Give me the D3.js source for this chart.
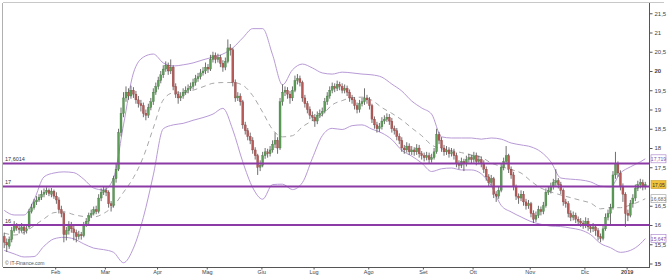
<!DOCTYPE html>
<html>
<head>
<meta charset="utf-8">
<script src="https://cdn.jsdelivr.net/npm/d3@7"></script>
<style>
  body { margin: 0; background: #fff; }
  svg { display: block; font-family: "Liberation Sans", Arial, sans-serif; }
</style>
</head>
<body>
<svg id="chart" width="668" height="277"></svg>
<script>
// daily candles, trading-day index 0 = first session of Jan 2018
const opens = [15.7,15.55,15.45,15.62,15.85,15.98,15.92,15.85,15.95,15.85,
15.95,16.35,16.45,16.6,16.65,16.72,16.8,16.85,16.9,16.8,
16.88,16.75,16.65,16.4,16.3,15.75,15.85,16.0,15.9,15.8,
15.7,15.75,15.72,16.0,16.1,16.25,16.3,16.4,16.35,16.7,
16.85,16.9,16.85,16.55,16.5,17.2,17.45,18.4,18.9,19.3,
19.45,19.35,19.5,19.4,19.25,19.15,19.1,18.9,18.85,19.05,
19.2,19.45,19.6,19.75,19.9,20.05,20.15,20.0,20.1,19.6,
19.4,19.3,19.35,19.45,19.5,19.55,19.6,19.7,19.8,19.85,
19.95,20.0,20.1,20.05,20.3,20.4,20.3,20.35,20.2,20.1,
20.25,20.6,20.55,19.7,19.3,19.35,19.2,18.6,18.45,18.3,
18.2,17.95,17.8,17.5,17.55,17.8,17.9,17.85,17.95,18.1,
18.2,18.0,19.2,19.45,19.5,19.4,19.3,19.5,19.75,19.8,
19.7,19.3,19.15,19.0,18.85,18.8,18.7,18.85,18.9,18.95,
19.2,19.35,19.5,19.6,19.55,19.65,19.6,19.5,19.55,19.45,
19.3,19.25,19.1,19.0,19.15,19.2,19.3,19.25,19.1,18.75,
18.6,18.5,18.55,18.7,18.75,18.8,18.7,18.5,18.45,18.3,
18.2,18.0,17.95,18.05,17.9,17.95,17.9,18.0,17.85,17.8,
17.75,17.8,17.7,17.75,17.9,18.35,18.2,18.0,17.9,17.95,
17.85,17.9,17.8,17.6,17.55,17.65,17.6,17.7,17.75,17.7,
17.8,17.65,17.7,17.6,17.45,17.25,17.1,17.2,16.8,16.75,
16.9,17.5,17.65,17.8,17.45,17.3,17.0,16.75,16.7,16.8,
16.6,16.5,16.55,16.3,16.15,16.25,16.4,16.35,16.5,16.85,
16.9,17.0,17.1,17.15,17.05,16.9,16.6,16.55,16.3,16.2,
16.25,16.15,16.1,16.05,16.0,16.1,15.95,15.9,15.95,15.85,
15.7,15.65,15.9,16.2,16.3,16.45,17.3,17.6,17.35,17.0,
16.8,16.3,16.25,16.55,16.7,16.95,17.05,17.1,17.0];

const highs = [15.8,15.65,15.7,15.95,16.1,16.05,16.0,16.05,16.02,16.0,
16.42,16.55,16.68,16.75,16.8,16.9,16.95,16.98,16.95,16.96,
16.92,16.85,16.72,16.5,16.35,15.95,16.1,16.08,15.98,15.88,
15.85,15.82,16.08,16.18,16.32,16.4,16.48,16.5,16.8,16.95,
17.0,16.98,16.9,16.62,17.28,17.6,18.5,19.05,19.45,19.6,
19.55,19.62,19.58,19.48,19.35,19.25,19.18,19.0,19.15,19.3,
19.55,19.7,19.85,20.0,20.15,20.25,20.22,20.3,20.15,19.68,
19.48,19.45,19.55,19.6,19.65,19.7,19.8,19.9,19.95,20.05,
20.1,20.22,20.18,20.42,20.5,20.48,20.45,20.42,20.28,20.35,
20.82,20.7,20.6,19.78,19.45,19.42,19.25,18.68,18.52,18.4,
18.28,18.02,17.85,17.68,17.9,18.0,17.98,18.05,18.2,18.4,
18.28,19.3,19.65,19.6,19.58,19.48,19.6,19.88,19.92,19.88,
19.75,19.38,19.22,19.08,18.95,18.88,18.95,19.0,19.05,19.3,
19.45,19.6,19.7,19.68,19.75,19.72,19.68,19.65,19.62,19.52,
19.38,19.32,19.18,19.25,19.3,19.55,19.38,19.32,19.15,18.82,
18.68,18.65,18.8,18.85,18.9,18.88,18.78,18.58,18.52,18.38,
18.28,18.08,18.15,18.12,18.05,18.02,18.1,18.08,17.92,17.88,
17.9,17.88,17.85,18.0,18.5,18.42,18.28,18.08,18.05,18.02,
18.0,17.98,17.88,17.68,17.75,17.72,17.8,17.85,17.82,17.9,
17.88,17.8,17.78,17.68,17.52,17.32,17.3,17.25,16.88,17.0,
17.6,17.75,18.05,17.85,17.52,17.38,17.05,16.82,16.9,16.88,
16.68,16.65,16.6,16.38,16.35,16.5,16.48,16.6,16.95,17.0,
17.1,17.2,17.45,17.22,17.12,16.95,16.68,16.62,16.38,16.35,
16.32,16.22,16.18,16.12,16.2,16.18,16.02,16.05,16.02,15.92,
15.78,16.0,16.3,16.4,16.55,17.4,17.9,17.65,17.42,17.08,
16.85,16.4,16.65,16.8,17.05,17.15,17.2,17.18,17.12];

const lows = [15.4,15.3,15.38,15.55,15.8,15.85,15.78,15.8,15.75,15.78,
15.9,16.3,16.4,16.52,16.6,16.65,16.72,16.78,16.75,16.72,
16.68,16.55,16.3,16.2,15.55,15.6,15.75,15.8,15.6,15.55,
15.62,15.62,15.68,15.95,16.02,16.18,16.25,16.28,16.3,16.62,
16.78,16.75,16.45,16.35,16.45,17.1,17.4,18.3,18.8,19.2,
19.25,19.28,19.3,19.15,19.05,18.95,18.8,18.72,18.78,18.98,
19.12,19.38,19.52,19.68,19.82,19.98,19.9,19.92,19.5,19.3,
19.15,19.22,19.28,19.38,19.42,19.48,19.52,19.62,19.72,19.78,
19.88,19.92,19.95,20.0,20.22,20.2,20.22,20.1,19.98,20.02,
20.2,20.4,19.6,19.2,19.22,19.1,18.5,18.35,18.2,18.1,
17.85,17.7,17.3,17.4,17.5,17.72,17.75,17.78,17.88,18.0,
17.85,17.95,19.1,19.35,19.28,19.15,19.22,19.45,19.65,19.6,
19.2,19.05,18.9,18.75,18.7,18.55,18.62,18.78,18.82,18.9,
19.12,19.28,19.42,19.45,19.48,19.5,19.42,19.42,19.35,19.2,
19.15,19.0,18.9,18.92,19.08,19.12,19.15,19.0,18.65,18.5,
18.4,18.42,18.48,18.62,18.68,18.6,18.4,18.35,18.2,18.1,
17.9,17.85,17.88,17.82,17.82,17.8,17.82,17.75,17.7,17.65,
17.68,17.6,17.62,17.7,17.85,18.1,17.9,17.8,17.82,17.75,
17.78,17.7,17.5,17.45,17.48,17.4,17.52,17.62,17.6,17.62,
17.55,17.58,17.5,17.35,17.15,17.0,17.02,16.7,16.6,16.68,
16.85,17.42,17.58,17.35,17.2,16.9,16.65,16.55,16.62,16.5,
16.4,16.42,16.2,16.05,16.08,16.18,16.25,16.28,16.45,16.78,
16.82,16.92,17.02,16.95,16.8,16.5,16.45,16.2,16.1,16.12,
16.05,16.0,15.95,15.9,15.92,15.85,15.8,15.82,15.72,15.6,
15.55,15.6,15.85,16.12,16.0,16.4,17.2,17.25,16.9,16.6,
15.95,16.1,16.2,16.45,16.62,16.88,16.95,16.9,16.92];

const closes = [15.55,15.48,15.62,15.85,15.98,15.92,15.88,15.95,15.85,15.9,
16.35,16.45,16.6,16.65,16.72,16.8,16.85,16.9,16.82,16.88,
16.75,16.65,16.4,16.3,15.75,15.85,16.0,15.9,15.8,15.7,
15.75,15.72,16.0,16.1,16.25,16.3,16.4,16.35,16.7,16.85,
16.9,16.85,16.55,16.5,17.2,17.45,18.4,18.9,19.3,19.45,
19.35,19.5,19.4,19.25,19.15,19.1,18.9,18.85,19.05,19.2,
19.45,19.6,19.75,19.9,20.05,20.15,20.0,20.1,19.6,19.4,
19.3,19.35,19.45,19.5,19.55,19.6,19.7,19.8,19.85,19.95,
20.0,20.1,20.05,20.3,20.4,20.3,20.35,20.2,20.1,20.25,
20.6,20.55,19.7,19.3,19.35,19.2,18.6,18.45,18.3,18.2,
17.95,17.8,17.5,17.55,17.8,17.9,17.85,17.95,18.1,18.2,
18.0,19.2,19.45,19.5,19.4,19.3,19.5,19.75,19.8,19.7,
19.3,19.15,19.0,18.85,18.8,18.7,18.85,18.9,18.95,19.2,
19.35,19.5,19.6,19.55,19.65,19.6,19.5,19.55,19.45,19.3,
19.25,19.1,19.0,19.15,19.2,19.3,19.25,19.1,18.75,18.6,
18.5,18.55,18.7,18.75,18.8,18.7,18.5,18.45,18.3,18.2,
18.0,17.95,18.05,17.9,17.95,17.9,18.0,17.85,17.8,17.75,
17.8,17.7,17.75,17.9,18.35,18.2,18.0,17.9,17.95,17.85,
17.9,17.8,17.6,17.55,17.65,17.6,17.7,17.75,17.7,17.8,
17.65,17.7,17.6,17.45,17.25,17.1,17.2,16.8,16.75,16.9,
17.5,17.65,17.8,17.45,17.3,17.0,16.75,16.7,16.8,16.6,
16.5,16.55,16.3,16.15,16.25,16.4,16.35,16.5,16.85,16.9,
17.0,17.1,17.15,17.05,16.9,16.6,16.55,16.3,16.2,16.25,
16.15,16.1,16.05,16.0,16.1,15.95,15.9,15.95,15.85,15.7,
15.65,15.9,16.2,16.3,16.45,17.3,17.6,17.35,17.0,16.8,
16.3,16.25,16.55,16.7,16.95,17.05,17.1,17.0,17.05];

// Bollinger bands, read every 4 sessions
const bandDays = [0,4,8,12,16,20,24,28,32,36,40,44,48,52,56,60,64,68,72,76,
80,84,88,92,96,100,104,108,112,116,120,124,128,132,136,140,144,148,152,156,
160,164,168,172,176,180,184,188,192,196,200,204,208,212,216,220,224,228,232,236,
240,244,248,252,256,258];

const bandUpper = [16.38,16.26,16.26,16.65,17.25,17.35,17.38,17.36,17.19,16.96,
16.91,17.22,18.6,19.95,20.36,20.44,20.21,20.13,20.16,20.21,
20.29,20.36,20.44,20.6,20.86,21.1,21.1,20.42,19.64,20.03,
20.18,20.08,19.95,19.92,19.97,19.95,19.92,19.9,19.84,19.66,
19.48,19.22,19.04,18.88,18.29,18.26,18.26,18.26,18.23,18.26,
18.23,18.13,18.08,18.03,17.9,17.64,17.22,17.19,17.17,17.12,
17.01,16.99,17.35,17.51,17.64,17.719];

const bandMid = [15.79,15.74,15.81,15.98,16.16,16.32,16.34,16.27,16.22,16.21,
16.3,16.5,16.85,17.23,17.77,18.52,19.25,19.43,19.43,19.5,
19.59,19.68,19.7,19.7,19.63,19.36,18.93,18.48,18.29,18.32,
18.55,18.71,18.86,19.12,19.23,19.31,19.32,19.24,19.05,18.9,
18.73,18.52,18.32,18.08,17.98,17.93,17.88,17.82,17.76,17.61,
17.52,17.44,17.35,17.14,16.96,16.86,16.78,16.71,16.64,16.57,
16.42,16.45,16.45,16.52,16.62,16.683];

const bandLower = [15.34,15.25,15.17,15.18,15.45,15.64,15.68,15.64,15.51,15.4,
15.36,15.29,15.02,15.4,16.2,17.3,18.5,18.6,18.64,18.72,
18.79,18.88,19.03,18.47,17.64,16.97,16.67,17.05,17.06,16.92,
17.1,17.73,18.32,18.51,18.48,18.58,18.6,18.49,18.39,18.22,
17.94,17.79,17.61,17.39,17.46,17.48,17.43,17.43,17.33,17.02,
16.51,16.34,16.21,16.09,16.02,15.97,15.96,15.92,15.87,15.75,
15.52,15.41,15.29,15.34,15.51,15.647];

// horizontal support / resistance levels
const levelValues = [17.6, 17, 16];
const levelLabels = ["17,6014", "17", "16"];

// axes (the 17 label sits under the last-price box, so it is not drawn)
const monthDays = [21, 41, 62, 82, 104, 125, 147, 169, 189, 212, 234, 251];
const monthLabels = ["Feb", "Mar", "Apr", "Mag", "Giu", "Lug", "Ago", "Set", "Ott", "Nov", "Dic", "2019"];
const priceTicks = [15, 15.5, 16, 16.5, 17.5, 18, 18.5, 19, 19.5, 20, 20.5, 21, 21.5];

const width = 668, height = 277;
const plot = { left: 3, right: 649, top: 3, bottom: 267 };

const svg = d3.select("#chart");

const x = d3.scaleLinear().domain([0, 260]).range([plot.left, plot.right]);
const y = d3.scaleLinear().domain([15, 21.5]).range([263.5, 13.25]);
const comma = d => String(d).replace(".", ",");

// frame
svg.append("line").attr("x1", plot.left).attr("x2", 664).attr("y1", 2.5).attr("y2", 2.5)
  .attr("stroke", "#c8c8c8");
svg.append("line").attr("x1", 2.5).attr("x2", 2.5).attr("y1", plot.top).attr("y2", plot.bottom)
  .attr("stroke", "#b0b0b0");

// ================================
// BANDS
// ================================
const bandLine = (vals) => d3.line()
  .x((d, i) => x(bandDays[i] + 0.5))
  .y(d => y(d))
  .curve(d3.curveMonotoneX)(vals);

const bands = svg.append("g").attr("fill", "none");
bands.append("path").attr("d", bandLine(bandUpper)).attr("stroke", "#b89ad6").attr("stroke-width", 1);
bands.append("path").attr("d", bandLine(bandLower)).attr("stroke", "#b89ad6").attr("stroke-width", 1);
bands.append("path").attr("d", bandLine(bandMid)).attr("stroke", "#a8a8a8").attr("stroke-width", 1)
  .attr("stroke-dasharray", "5,4");

// ================================
// CANDLES
// ================================
const candles = closes.map((c, i) => ({ i, o: opens[i], h: highs[i], l: lows[i], c }));

const cg = svg.append("g");
cg.selectAll("line")
  .data(candles)
  .join("line")
  .attr("x1", d => x(d.i + 0.5))
  .attr("x2", d => x(d.i + 0.5))
  .attr("y1", d => y(d.h))
  .attr("y2", d => y(d.l))
  .attr("stroke", "#4a4a4a")
  .attr("stroke-width", 0.8);

cg.selectAll("rect")
  .data(candles)
  .join("rect")
  .attr("x", d => x(d.i + 0.5) - 1)
  .attr("width", 2)
  .attr("y", d => y(Math.max(d.o, d.c)))
  .attr("height", d => Math.max(0.8, Math.abs(y(d.o) - y(d.c))))
  .attr("fill", d => (d.c >= d.o ? "#5c9e57" : "#b85a57"))
  .attr("stroke", d => (d.c >= d.o ? "#3f6f3c" : "#7d3a38"))
  .attr("stroke-width", 0.3);

// ================================
// LEVELS
// ================================
const lv = svg.append("g");
lv.selectAll("line")
  .data(levelValues)
  .join("line")
  .attr("x1", plot.left)
  .attr("x2", plot.right + 1)
  .attr("y1", d => y(d))
  .attr("y2", d => y(d))
  .attr("stroke", "#8b3aa6")
  .attr("stroke-width", 2);

lv.selectAll("text")
  .data(levelLabels)
  .join("text")
  .attr("x", 5)
  .attr("y", (d, i) => y(levelValues[i]) - 2.5)
  .attr("font-size", 5.5)
  .attr("fill", "#333")
  .text(d => d);

// ================================
// AXES
// ================================
svg.append("line").attr("x1", plot.right + 0.5).attr("x2", plot.right + 0.5)
  .attr("y1", plot.top).attr("y2", plot.bottom).attr("stroke", "#555");
svg.append("line").attr("x1", plot.left).attr("x2", plot.right + 1)
  .attr("y1", plot.bottom + 0.5).attr("y2", plot.bottom + 0.5).attr("stroke", "#555");

const yAxis = svg.append("g")
  .attr("transform", `translate(${plot.right + 0.5},0)`)
  .call(d3.axisRight(y).tickValues(priceTicks).tickSize(3).tickFormat(comma));
yAxis.select(".domain").remove();
yAxis.selectAll("line").attr("stroke", "#555");
yAxis.selectAll("text")
  .attr("x", 5)
  .attr("font-size", 6)
  .attr("font-family", "Liberation Sans, Arial, sans-serif")
  .attr("fill", "#444")
  .attr("font-weight", d => (d === 15 || d === 20 ? "bold" : "normal"));

const xAxis = svg.append("g")
  .attr("transform", `translate(0,${plot.bottom + 0.5})`)
  .call(d3.axisBottom(x).tickValues(monthDays).tickSize(2)
    .tickFormat((d, i) => monthLabels[i]));
xAxis.select(".domain").remove();
xAxis.selectAll("line").attr("stroke", "#555");
xAxis.selectAll("text")
  .attr("y", 3)
  .attr("font-size", 5.5)
  .attr("font-family", "Liberation Sans, Arial, sans-serif")
  .attr("fill", "#444")
  .attr("font-weight", (d, i) => (monthLabels[i] === "2019" ? "bold" : "normal"));

// copyright
svg.append("text").attr("x", 5).attr("y", 265).attr("font-size", 5)
  .attr("fill", "#555").text("© IT-Finance.com");

// ================================
// LAST VALUE BOXES
// ================================
const lastVals = [
  { v: bandUpper[bandUpper.length - 1], fmt: ".3f", fill: "#fff", stroke: "#a47cc8", color: "#8050a8" },
  { v: closes[closes.length - 1], fmt: ".2f", fill: "#f2c23a", stroke: "#c89a20", color: "#333" },
  { v: bandMid[bandMid.length - 1], fmt: ".3f", fill: "#fff", stroke: "#999", color: "#666" },
  { v: bandLower[bandLower.length - 1], fmt: ".3f", fill: "#fff", stroke: "#a47cc8", color: "#8050a8" }
];

const boxes = svg.append("g").selectAll("g")
  .data(lastVals)
  .join("g")
  .attr("transform", d => `translate(${plot.right + 2},${y(d.v)})`);

boxes.append("rect")
  .attr("x", 0).attr("y", -4)
  .attr("width", 15).attr("height", 8)
  .attr("fill", d => d.fill)
  .attr("stroke", d => d.stroke)
  .attr("stroke-width", 0.6);

boxes.append("text")
  .attr("x", 7.5).attr("y", 2)
  .attr("text-anchor", "middle")
  .attr("font-size", 5)
  .attr("fill", d => d.color)
  .text(d => comma(d3.format(d.fmt)(d.v)));
</script>
</body>
</html>
